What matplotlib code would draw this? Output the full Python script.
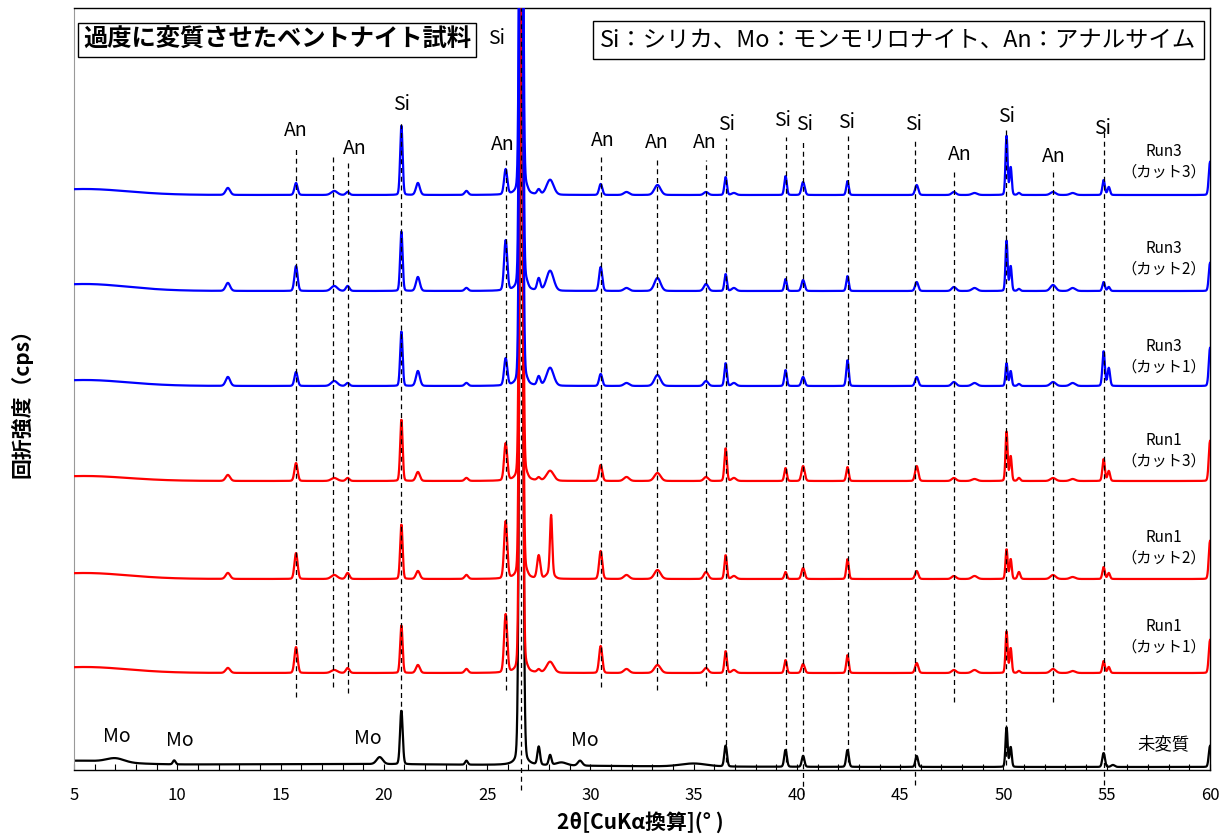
import numpy as np
import matplotlib
matplotlib.use('Agg')
import matplotlib.pyplot as plt

plt.rcParams['font.family'] = ['Noto Sans CJK JP', 'DejaVu Sans']

# --- peak tables (heights in px above each trace's baseline) ---
peak_pos = [5.5, 12.45, 15.75, 17.6, 18.25, 20.85, 21.65, 24.0, 25.9, 26.65, 26.9,
            27.5, 28.05, 28.1, 30.5, 31.75, 33.25, 35.6, 36.55, 36.95, 39.45, 40.3, 42.45,
            45.8, 47.6, 48.6, 50.15, 50.35, 50.75, 52.4, 53.35, 54.85, 55.1, 60.0]
peak_fwhm = [5.0, 0.25, 0.18, 0.35, 0.2, 0.14, 0.22, 0.2, 0.18, 0.16, 0.2,
             0.18, 0.4, 0.13, 0.18, 0.3, 0.35, 0.25, 0.14, 0.25, 0.14, 0.18, 0.14,
             0.18, 0.25, 0.3, 0.12, 0.12, 0.15, 0.3, 0.3, 0.14, 0.14, 0.14]

h_run3_cut3 = [6, 7, 12, 4, 3, 70, 12, 4, 25, 900, 4, 5, 15, 0, 11, 3, 10, 3, 18, 2, 19, 13, 14,
               10, 3, 2, 60, 28, 2, 3, 2, 15, 8, 33]
h_run3_cut2 = [7, 8, 25, 5, 5, 60, 14, 3, 50, 900, 5, 12, 20, 0, 24, 3, 13, 7, 17, 3, 12, 11, 15,
               9, 4, 3, 51, 25, 2, 6, 3, 9, 4, 28]
h_run3_cut1 = [6, 9, 14, 5, 3, 55, 15, 3, 27, 900, 3, 9, 18, 0, 12, 3, 11, 5, 23, 3, 16, 9, 26,
               9, 4, 3, 23, 15, 2, 4, 3, 35, 18, 38]
h_run1_cut3 = [5, 6, 18, 3, 3, 62, 9, 3, 37, 900, 3, 3, 10, 0, 16, 4, 8, 4, 33, 3, 13, 15, 14,
               15, 3, 2, 50, 25, 3, 3, 2, 22, 10, 40]
h_run1_cut2 = [6, 6, 26, 4, 6, 55, 8, 4, 57, 900, 3, 23, 6, 58, 28, 4, 9, 7, 24, 3, 7, 11, 20,
               8, 3, 3, 30, 20, 7, 4, 2, 12, 6, 38]
h_run1_cut1 = [6, 5, 26, 3, 5, 48, 8, 4, 58, 900, 3, 3, 11, 0, 27, 4, 8, 5, 22, 3, 13, 9, 18,
               10, 3, 3, 42, 25, 2, 4, 2, 12, 6, 33]

# untreated bentonite (black)
raw_pos = [5.0, 17.0, 7.0, 9.85, 19.8, 20.85, 24.0, 26.65, 27.5, 28.05, 28.6, 29.5,
           35.0, 36.55, 39.45, 40.3, 42.45, 45.8, 50.15, 50.35, 54.85, 55.3, 60.0]
raw_fwhm = [5.0, 22.0, 1.0, 0.15, 0.35, 0.15, 0.15, 0.18, 0.15, 0.15, 0.6, 0.25,
            1.5, 0.15, 0.15, 0.15, 0.15, 0.15, 0.12, 0.12, 0.15, 0.2, 0.14]
raw_h = [5, 3, 4, 4, 7, 54, 4, 900, 18, 10, 3, 5,
         3, 21, 17, 11, 17, 11, 40, 20, 14, 2, 21]

# baselines (px above the x axis) and labels, bottom to top
trace_names = ['未変質', 'Run1\n（カット1）', 'Run1\n（カット2）', 'Run1\n（カット3）',
               'Run3\n（カット1）', 'Run3\n（カット2）', 'Run3\n（カット3）']
trace_base = [3, 97, 191, 289, 384, 479, 575]
trace_label_y = [26, 133, 222, 319, 413, 511, 608]

# reference lines: position, top, bottom
ref_x = [15.75, 17.55, 18.25, 20.85, 25.9, 26.65, 30.5, 33.25, 35.6, 36.55, 39.45,
         40.3, 42.45, 45.7, 47.6, 50.1, 52.4, 54.85]
ref_top = [622, 615, 607, 648, 610, 762, 615, 610, 610, 632, 633, 630, 634, 632, 600, 640, 598, 640]
ref_bot = [73, 83, 77, 55, 80, -20, 83, 80, 84, 8, 8, -25, 8, -15, 68, 5, 68, -15]

# phase labels
an_x = [15.75, 18.6, 25.78, 30.6, 33.23, 35.56, 47.9, 52.46]
an_y = [640, 622, 626, 629, 627, 627, 615, 613]
si_x = [20.85, 25.48, 36.6, 39.3, 40.35, 42.4, 45.63, 50.13, 54.78]
si_y = [666, 732, 646, 649, 645, 648, 646, 654, 642]
mo_x = [7.08, 10.13, 19.24, 29.75]
mo_y = [34, 30, 32, 30]


def pattern(x, pos, fwhm, height, eta=0.1):
    y = np.zeros_like(x)
    for c, w, h in zip(pos, fwhm, height):
        d2 = 4 * (x - c) ** 2 / w ** 2
        y += h * ((1 - eta) * np.exp(-np.log(2) * d2) + eta / (1 + d2))
    return y


tt = np.linspace(5, 60, 2751)

fig = plt.figure(figsize=(12.25, 8.36), dpi=100)
ax = fig.add_axes([74 / 1225, 66 / 836, 1136 / 1225, 762 / 836])

curves = [pattern(tt, raw_pos, raw_fwhm, raw_h),
          pattern(tt, peak_pos, peak_fwhm, h_run1_cut1),
          pattern(tt, peak_pos, peak_fwhm, h_run1_cut2),
          pattern(tt, peak_pos, peak_fwhm, h_run1_cut3),
          pattern(tt, peak_pos, peak_fwhm, h_run3_cut1),
          pattern(tt, peak_pos, peak_fwhm, h_run3_cut2),
          pattern(tt, peak_pos, peak_fwhm, h_run3_cut3)]
colors = ['black', 'red', 'red', 'red', 'blue', 'blue', 'blue']

for i, (cv, base, col) in enumerate(zip(curves, trace_base, colors)):
    ax.plot(tt, cv + base, color=col, linewidth=1.6, zorder=2 + i)

for x, t, b in zip(ref_x, ref_top, ref_bot):
    ax.plot([x, x], [b, t], color='black', linewidth=0.9, linestyle=(0, (4, 3)),
            zorder=20, clip_on=False)

for x, y in zip(an_x, an_y):
    ax.text(x, y, 'An', fontsize=14, ha='center', va='center', zorder=25)
for x, y in zip(si_x, si_y):
    ax.text(x, y, 'Si', fontsize=14, ha='center', va='center', zorder=25)
for x, y in zip(mo_x, mo_y):
    ax.text(x, y, 'Mo', fontsize=14, ha='center', va='center', zorder=25)

for name, y in zip(trace_names, trace_label_y):
    fs = 12.5 if name == '未変質' else 11
    ax.text(57.75, y, name, fontsize=fs, ha='center', va='center', linespacing=1.25, zorder=25)

ax.text(14.83, 730, '過度に変質させたベントナイト試料', fontsize=17.5, fontweight='bold',
        ha='center', va='center', zorder=30,
        bbox=dict(boxstyle='square,pad=0.22', fc='white', ec='black', lw=1))
ax.text(44.9, 730, 'Si：シリカ、Mo：モンモリロナイト、An：アナルサイム', fontsize=16.8,
        ha='center', va='center', zorder=30,
        bbox=dict(boxstyle='square,pad=0.32', fc='white', ec='black', lw=1))

ax.set_xlim(5, 60)
ax.set_ylim(0, 762)
ax.set_yticks([])
ax.set_xticks(range(5, 61, 5))
ax.set_xticks(range(5, 61), minor=True)
ax.tick_params(axis='x', which='both', direction='in', length=4, width=0.8,
               labelsize=12, pad=12)
ax.spines['left'].set_color('#999999')
for s in ['top', 'right', 'bottom']:
    ax.spines[s].set_linewidth(1.0)

fig.text(640 / 1225, 1 - 822 / 836, '2θ[CuKα換算](° )', fontsize=15, fontweight='bold',
         ha='center', va='center')
fig.text(22 / 1225, 1 - 398 / 836, '回折強度（cps）', fontsize=15, fontweight='bold',
         ha='center', va='center', rotation=90)

fig.savefig('out.png', dpi=100)
